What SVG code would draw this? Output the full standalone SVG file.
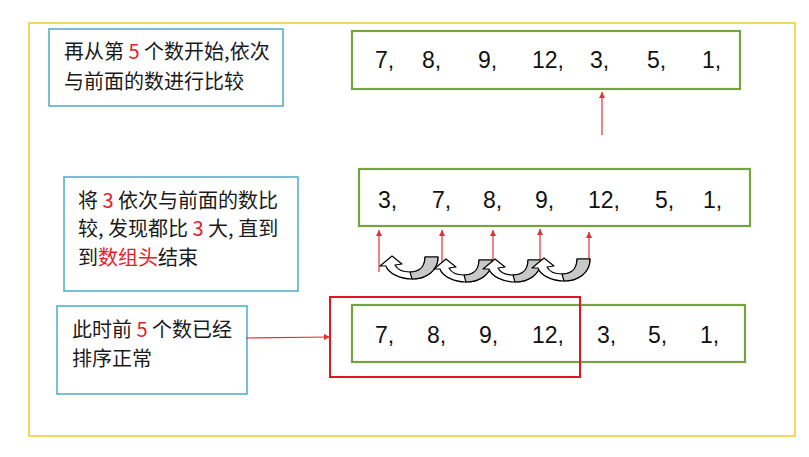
<svg xmlns="http://www.w3.org/2000/svg" width="809" height="457" viewBox="0 0 809 457">
<style>
.frame{fill:none;stroke:#F5D65E;stroke-width:2}
.note{fill:#fff;stroke:#4BACC6;stroke-width:1.5}
.arr{fill:#fff;stroke:#77A33F;stroke-width:2.2}
.hl{fill:none;stroke:#E0161E;stroke-width:2}
.cn{font-family:"Noto Sans CJK SC","Noto Sans",sans-serif;font-size:20px;fill:#1a1a1a}
.num{font-family:"Liberation Sans","Noto Sans",sans-serif;font-size:23px;fill:#111}
.red{fill:#E5202A}
.rl{stroke:#E0303A;stroke-width:1.2;fill:none;marker-end:url(#ah)}
.curve{fill:#fff;stroke:#000;stroke-width:1.2;stroke-linejoin:round}
.shade{fill:#C8C8C8;stroke:#000;stroke-width:1.2;stroke-linejoin:round}
</style>
<defs>
<marker id="ah" markerUnits="userSpaceOnUse" markerWidth="8" markerHeight="8" refX="6" refY="4" orient="auto">
<path d="M0,1 L6,4 L0,7 Z" fill="#E0303A"/>
</marker>
<g id="uarrow">
<path class="curve" d="M58,1 C58,15 46,23 32,23 C20,23 8,17 6,10 L0,10 L12,0 L22,8 L15,9 C17,13 22,16 30,16 C40,16 45,10 45,1 Z"/>
<path class="shade" d="M45,1 L58,1 C58,15 46,23 32,23 L30,16 C40,16 45,10 45,1 Z"/>
</g>
</defs>
<rect class="frame" x="29" y="23" width="766" height="413"/>

<g id="note1">
<rect class="note" x="49" y="29" width="234" height="77"/>
<text class="cn" x="64" y="59">再从第 <tspan class="red">5</tspan> 个数开始,依次</text>
<text class="cn" x="64" y="89">与前面的数进行比较</text>
</g>

<g id="row1">
<rect class="arr" x="352" y="31" width="388" height="58"/>
<text class="num" y="68"><tspan x="375">7,</tspan><tspan x="422">8,</tspan><tspan x="478">9,</tspan><tspan x="532">12,</tspan><tspan x="590">3,</tspan><tspan x="647">5,</tspan><tspan x="702">1,</tspan></text>
</g>

<g id="note2">
<rect class="note" x="64" y="177" width="234" height="114"/>
<text class="cn" x="78" y="208">将 <tspan class="red">3</tspan> 依次与前面的数比</text>
<text class="cn" x="78" y="236">较, 发现都比 <tspan class="red">3</tspan> 大, 直到</text>
<text class="cn" x="78" y="265">到<tspan class="red">数组头</tspan>结束</text>
</g>

<g id="row2">
<rect class="arr" x="359" y="169" width="391" height="57"/>
<text class="num" y="208"><tspan x="378">3,</tspan><tspan x="432">7,</tspan><tspan x="483">8,</tspan><tspan x="535">9,</tspan><tspan x="588">12,</tspan><tspan x="655">5,</tspan><tspan x="703">1,</tspan></text>
</g>

<g id="note3">
<rect class="note" x="57" y="306" width="190" height="88"/>
<text class="cn" x="72" y="337">此时前 <tspan class="red">5</tspan> 个数已经</text>
<text class="cn" x="72" y="366">排序正常</text>
</g>

<g id="row3">
<rect class="arr" x="352" y="305" width="393" height="57"/>
<text class="num" y="343"><tspan x="375">7,</tspan><tspan x="427">8,</tspan><tspan x="479">9,</tspan><tspan x="532">12,</tspan><tspan x="597">3,</tspan><tspan x="648">5,</tspan><tspan x="700">1,</tspan></text>
</g>

<g id="highlight">
<rect class="hl" x="330" y="297" width="250" height="80"/>
</g>

<g id="connectors">
<line class="rl" x1="602" y1="135" x2="602" y2="92"/>
<line class="rl" x1="379" y1="272" x2="379" y2="230"/>
<line class="rl" x1="442" y1="273" x2="442" y2="230"/>
<line class="rl" x1="493" y1="273" x2="493" y2="230"/>
<line class="rl" x1="540" y1="263" x2="540" y2="229"/>
<line class="rl" x1="589" y1="263" x2="589" y2="232"/>
<line class="rl" x1="246" y1="338" x2="330" y2="337"/>
<use href="#uarrow" x="380" y="256"/>
<use href="#uarrow" x="434" y="259"/>
<use href="#uarrow" x="483" y="259"/>
<use href="#uarrow" x="532" y="258"/>
</g>
</svg>
